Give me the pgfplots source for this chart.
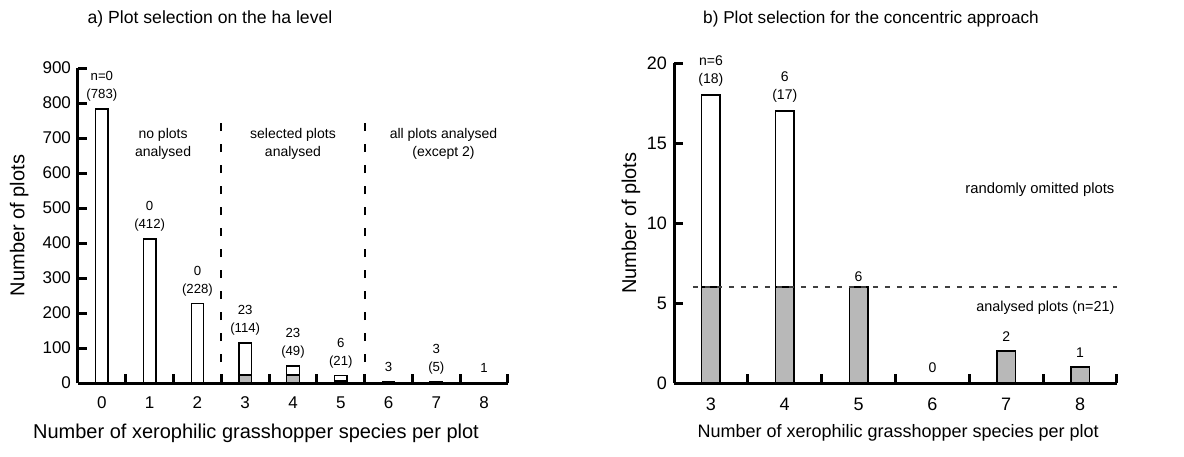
\documentclass[border=0pt]{standalone}
\usepackage{fontspec}
\setmainfont{Liberation Sans}
\usepackage{pgfplots}
\pgfplotsset{compat=1.18}
\definecolor{bargray}{gray}{0.72}
\newcommand{\fs}[1]{\fontsize{#1}{#1}\selectfont}
\tikzset{
  lab/.style={anchor=south, inner sep=0pt, yshift=3.5pt, align=center, font=\fontsize{6.6}{9}\selectfont},
  txt/.style={align=center, font=\fontsize{7}{9}\selectfont, inner sep=0pt},
}
\begin{document}
\begin{tikzpicture}
\useasboundingbox (-39pt,-36.5pt) rectangle (553pt,191.5pt);
\pgfplotsset{
  myaxis/.style={
    scale only axis,
    axis x line=bottom, axis y line=left,
    axis line style={line width=1.5pt,-},
    tick align=inside,
    major tick length=4.5pt,
    tick style={line width=1.5pt, black},
    ymin=0,
    clip=false,
    axis on top,
    /pgf/number format/assume math mode=true,
    xticklabels={},
    extra x tick style={major tick length=0pt, tick style={draw=none}},
    ylabel={Number of plots},
    xlabel={Number of xerophilic grasshopper species per plot},
  },
  whitebar/.style={ybar, bar shift=0pt, fill=white, draw=black, line width=0.7pt},
  graybar/.style={ybar, bar shift=0pt, fill=bargray, draw=black, line width=0.7pt},
}
% ---------- a)
\begin{axis}[myaxis,
  at={(0pt,0pt)}, anchor=south west,
  width=215pt, height=157.5pt,
  xmin=-0.5, xmax=8.5, ymax=900,
  ytick={0,100,...,900},
  xtick={-0.5,0.5,...,8.5},
  extra x ticks={0,1,2,3,4,5,6,7,8},
  extra x tick labels={0,1,2,3,4,5,6,7,8},
  ticklabel style={font=\fs{8.5}},
  xticklabel style={yshift=-3.5pt},
  ylabel style={at={(axis description cs:-0.137,0.5)}, anchor=center, font=\fs{10}},
  xlabel style={at={(axis description cs:0.414,-0.159)}, anchor=center, font=\fs{10}},
]
\addplot[whitebar, bar width=0.26] coordinates {(0,783) (1,412) (2,228) (3,114) (4,49) (5,21) (6,3) (7,5) (8,1)};
\addplot[graybar, bar width=0.26] coordinates {(3,23) (4,23) (5,6) (6,3) (7,3) (8,1)};
\addplot[black, line width=0.9pt, dash pattern=on 4pt off 6.5pt] coordinates {(2.5,0) (2.5,757)};
\addplot[black, line width=0.9pt, dash pattern=on 4pt off 6.5pt] coordinates {(5.5,0) (5.5,757)};
\node[lab] at (axis cs:0,783) {n=0\\(783)};
\node[lab] at (axis cs:1,412) {0\\(412)};
\node[lab] at (axis cs:2,228) {0\\(228)};
\node[lab] at (axis cs:3,114) {23\\(114)};
\node[lab] at (axis cs:4,49) {23\\(49)};
\node[lab] at (axis cs:5,21) {6\\(21)};
\node[lab, yshift=1.5pt] at (axis cs:6,3) {3};
\node[lab] at (axis cs:7,5) {3\\(5)};
\node[lab, yshift=1.5pt] at (axis cs:8,1) {1};
\node[txt] at (axis cs:1.28,683) {no plots\\analysed};
\node[txt] at (axis cs:4.0,683) {selected plots\\analysed};
\node[txt] at (axis cs:7.15,683) {all plots analysed\\(except 2)};
\end{axis}
% ---------- b)
\begin{axis}[myaxis,
  at={(298pt,0pt)}, anchor=south west,
  width=221.5pt, height=160pt,
  xmin=2.5, xmax=8.5, ymax=20,
  ytick={0,5,...,20},
  xtick={2.5,3.5,...,8.5},
  extra x ticks={3,4,5,6,7,8},
  extra x tick labels={3,4,5,6,7,8},
  ticklabel style={font=\fs{9}},
  xticklabel style={yshift=-4pt},
  ylabel style={at={(axis description cs:-0.097,0.5)}, anchor=center, font=\fs{10}},
  xlabel style={at={(axis description cs:0.506,-0.156)}, anchor=center, font=\fs{9}},
]
\addplot[whitebar, bar width=0.25] coordinates {(3,18) (4,17) (5,6) (7,2) (8,1)};
\addplot[graybar, bar width=0.25] coordinates {(3,6) (4,6) (5,6) (7,2) (8,1)};
\addplot[black!75, line width=0.6pt, dash pattern=on 2.5pt off 3.5pt] coordinates {(2.755,6) (8.5,6)};
\node[lab, font=\fontsize{7}{9}\selectfont, yshift=0.5pt] at (axis cs:3,18) {n=6\\(18)};
\node[lab, font=\fontsize{7}{9}\selectfont, yshift=0.5pt] at (axis cs:4,17) {6\\(17)};
\node[lab, font=\fontsize{7}{9}\selectfont, yshift=-1pt] at (axis cs:5,6) {6};
\node[lab, font=\fontsize{7}{9}\selectfont, yshift=1.5pt] at (axis cs:6,0) {0};
\node[lab, font=\fontsize{7}{9}\selectfont, yshift=1pt] at (axis cs:7,2) {2};
\node[lab, font=\fontsize{7}{9}\selectfont, yshift=1pt] at (axis cs:8,1) {1};
\node[txt, anchor=east, font=\fontsize{7.4}{9}\selectfont] at (axis cs:8.47,12.06) {randomly omitted plots};
\node[txt, anchor=east, font=\fontsize{7.2}{9}\selectfont] at (axis cs:8.47,4.69) {analysed plots (n=21)};
\end{axis}
\node[font=\fs{8.8}] at (66pt,182pt) {a) Plot selection on the ha level};
\node[font=\fs{8.6}] at (396.5pt,182pt) {b) Plot selection for the concentric approach};
\end{tikzpicture}
\end{document}
